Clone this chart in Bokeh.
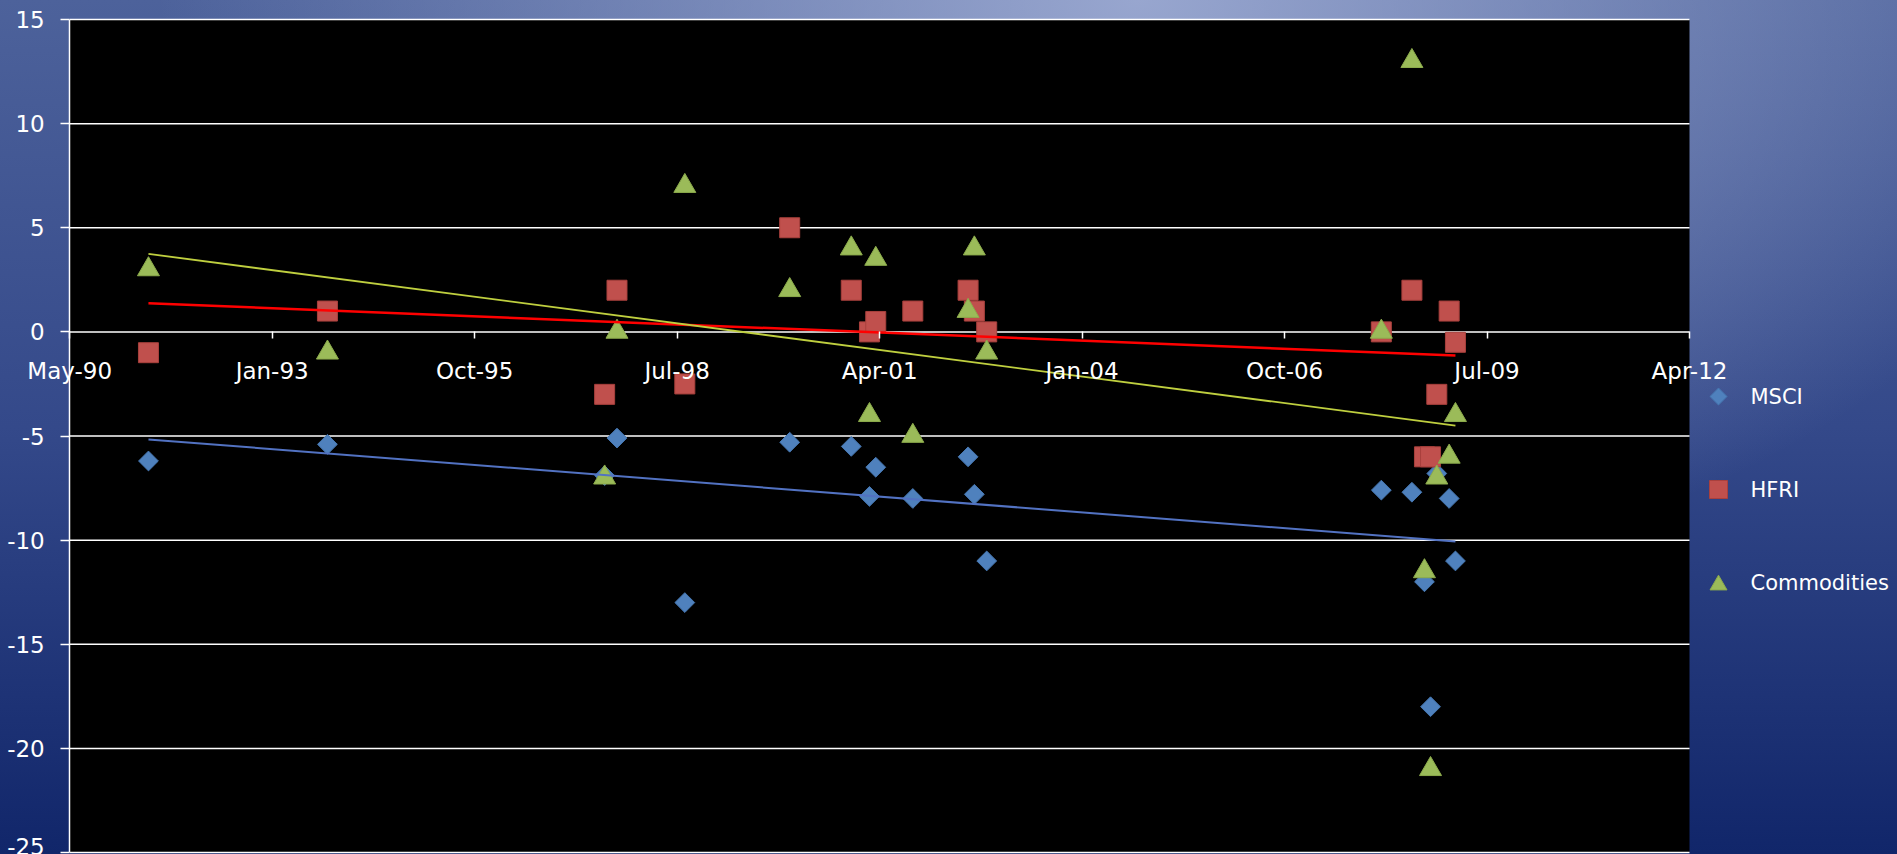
import numpy as np
import pandas as pd
from bokeh.plotting import figure
from bokeh.core.properties import value
from bokeh.models import Range1d, FixedTicker, DatetimeTickFormatter
from bokeh.embed import file_html
from bokeh.resources import INLINE

# Monthly returns (%) for the worst months, three asset classes
dates = ["1991-05-31", "1993-10-31", "1997-07-31", "1997-09-30", "1998-08-31",
         "2000-01-31", "2000-11-30", "2001-02-28", "2001-03-31", "2001-09-30",
         "2002-06-30", "2002-07-31", "2002-09-30", "2008-01-31", "2008-06-30",
         "2008-08-31", "2008-09-30", "2008-10-31", "2008-12-31", "2009-01-31"]
msci = [-6.2, -5.4, -6.9, -5.1, -13.0, -5.3, -5.5, -7.9, -6.5, -8.0,
        -6.0, -7.8, -11.0, -7.6, -7.7, -12.0, -18.0, -6.8, -8.0, -11.0]
hfri = [-1.0, 1.0, -3.0, 2.0, -2.5, 5.0, 2.0, 0.0, 0.5, 1.0,
        2.0, 1.0, 0.0, 0.0, 2.0, -6.0, -6.0, -3.0, 1.0, -0.5]
commodities = [3.0, -1.0, -7.0, 0.0, 7.0, 2.0, 4.0, -4.0, 3.5, -5.0,
               1.0, 4.0, -1.0, 0.0, 13.0, -11.5, -21.0, -7.0, -6.0, -4.0]
series_names = ["MSCI", "HFRI", "Commodities"]

# Axis ticks
x_tick_dates = ["1990-05-07", "1993-01-31", "1995-10-28", "1998-07-24", "2001-04-19",
                "2004-01-14", "2006-10-10", "2009-07-06", "2012-04-01"]
y_ticks = [-25, -20, -15, -10, -5, 0, 5, 10, 15]

FONT = "DejaVu Sans"
W, H = 1897, 854
# plot box inside the canvas (pixels): left, right, top, bottom
BOX_L, BOX_R, BOX_T, BOX_B = 69.2, 1689.0, 19.0, 852.0

# marker styles per series: marker, angle, size, fill, outline
STYLES = [("square", np.pi / 4, 14, "#4f81bd", "#4576b0"),
          ("square", 0.0, 20, "#c0504d", "#a9403d"),
          ("triangle", 0.0, 22, "#9bbb59", "#8cab4c")]
TREND = [("#5272c2", 2.0), ("#ff0000", 2.5), ("#bfcf3f", 1.8)]


def to_ms(d):
    return pd.Timestamp(d).timestamp() * 1000.0


x = np.array([to_ms(d) for d in dates])
x_ticks = [to_ms(d) for d in x_tick_dates]
x0, x1 = x_ticks[0], x_ticks[-1]
y0, y1 = y_ticks[0], y_ticks[-1]

# The frame spans the whole canvas; the plot box is placed inside it
ppx = (BOX_R - BOX_L) / (x1 - x0)
ppy = (BOX_B - BOX_T) / (y1 - y0)
x_range = Range1d(x0 - BOX_L / ppx, x1 + (W - BOX_R) / ppx)
y_range = Range1d(y0 - (H - BOX_B) / ppy, y1 + BOX_T / ppy)


def sx(px):
    """canvas pixel column -> x data value"""
    return x_range.start + px / ppx


def sy(py):
    """canvas pixel row (from top) -> y data value"""
    return y_range.end - py / ppy


p = figure(width=W, height=H, x_axis_type="datetime",
           x_range=x_range, y_range=y_range,
           output_backend="svg", toolbar_location=None,
           min_border=0, min_border_left=0, min_border_right=0,
           min_border_top=0, min_border_bottom=0)
p.background_fill_color = None
p.border_fill_color = None
p.outline_line_color = None
p.xgrid.visible = False
p.ygrid.visible = False
p.styles = {
    "background-image": (
        "radial-gradient(ellipse 980px 600px at 60% 0%, "
        "rgba(165,178,216,0.85) 0%, rgba(165,178,216,0) 100%), "
        "linear-gradient(to bottom, #4d629b 0%, #34498a 50%, #11266a 100%)"
    )
}

# Black plot box and horizontal grid lines
p.quad(left=[x0], right=[x1], bottom=[y0], top=[y1],
       fill_color="black", line_color=None)
p.segment(x0=[x0] * len(y_ticks), x1=[x1] * len(y_ticks), y0=y_ticks, y1=y_ticks,
          line_color="white", line_width=1.5)

# Axes pinned to the plot box
xfmt = "%b-%y"
p.xaxis.formatter = DatetimeTickFormatter(
    microseconds=xfmt, milliseconds=xfmt, seconds=xfmt, minsec=xfmt, minutes=xfmt,
    hourmin=xfmt, hours=xfmt, days=xfmt, months=xfmt, years=xfmt,
    strip_leading_zeros=False)
p.xaxis.ticker = FixedTicker(ticks=x_ticks)
p.xaxis.fixed_location = 0
p.xaxis.bounds = (x0, x1)
p.xaxis.axis_line_color = None
p.yaxis.ticker = FixedTicker(ticks=y_ticks)
p.yaxis.major_label_overrides = {v: str(v) for v in y_ticks}
p.yaxis.fixed_location = x0
p.yaxis.bounds = (y0, y1)
p.yaxis.axis_line_color = "white"
p.yaxis.axis_line_width = 1.5

for ax in (p.xaxis[0], p.yaxis[0]):
    ax.major_tick_line_color = "white"
    ax.major_tick_line_width = 1.5
    ax.major_tick_in = 0
    ax.minor_tick_line_color = None
    ax.major_label_text_color = "white"
    ax.major_label_text_font = FONT
    ax.major_label_text_font_size = "23px"
p.xaxis.major_tick_out = 7
p.xaxis.major_label_standoff = 19
p.yaxis.major_tick_out = 9
p.yaxis.major_label_standoff = 16

# Scatter series
for ys, (marker, angle, size, fill, edge) in zip((msci, hfri, commodities), STYLES):
    p.scatter(x, ys, marker=marker, angle=angle, size=size,
              fill_color=fill, line_color=edge, line_width=1)

# Linear trend lines
xs = np.array([x.min(), x.max()])
for ys, (color, w) in zip((msci, hfri, commodities), TREND):
    k, b = np.polyfit(x, np.array(ys), 1)
    p.line(xs, k * xs + b, line_color=color, line_width=w)

# Legend to the right of the plot box: swatch column and label column
LEG_SWATCH_PX, LEG_TEXT_PX = 1718, 1750
LEG_ROWS_PX = [396, 489, 582]
LEG_SIZES = [12, 18, 17]
LEG_NUDGE = [0, 0, 2.5]  # triangle centroid sits below its box centre
for (marker, angle, _, fill, edge), row, size, nudge in zip(
        STYLES, LEG_ROWS_PX, LEG_SIZES, LEG_NUDGE):
    p.scatter([sx(LEG_SWATCH_PX)], [sy(row + nudge)], marker=marker, angle=angle,
              size=size, fill_color=fill, line_color=edge, line_width=1)
p.text(x=[sx(LEG_TEXT_PX)] * 3, y=[sy(r) for r in LEG_ROWS_PX], text=series_names,
       text_font=value(FONT), text_font_size="21px", text_color="white",
       text_align="left", text_baseline="middle")

open("out.html", "w").write(file_html(p, INLINE))
